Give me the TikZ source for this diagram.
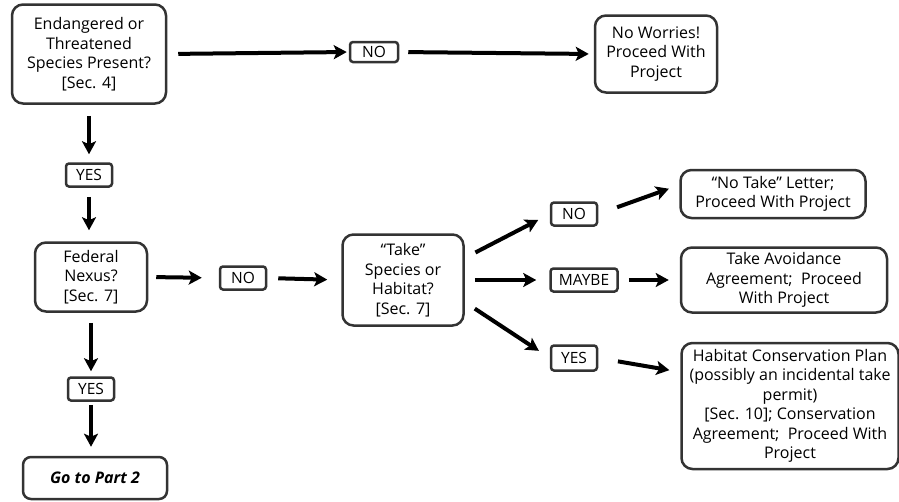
\documentclass[tikz,border=0pt]{standalone}
\usepackage{fontspec}
\setmainfont{Open Sans}
\usetikzlibrary{arrows.meta}
\definecolor{edge}{HTML}{333333}
\begin{document}
\begin{tikzpicture}[x=1pt,y=-1pt,
        box/.style={draw=edge, line width=2.5pt, rounded corners=11pt, align=center,
            inner sep=1pt, font=\fontsize{16}{19.5}\selectfont},
        tag/.style={draw=edge, line width=2.5pt, rounded corners=3pt, inner sep=0pt,
            font=\fontsize{15.5}{16}\selectfont},
        arr/.style={line width=4pt, -{Stealth[length=13pt,width=14pt,inset=3pt]}}]
    \useasboundingbox (0,0) rectangle (899,501);
    % boxes
    \node[box, minimum width=154pt, minimum height=99pt] (present) at (89,54) {Endangered or\\Threatened\\Species Present?\\{[}Sec. 4{]}};
    \node[box, minimum width=122pt, minimum height=77pt] (noworry) at (656,54) {No Worries!\\Proceed With\\Project};
    \node[box, minimum width=112pt, minimum height=69pt] (nexus) at (91,277) {Federal\\Nexus?\\{[}Sec. 7{]}};
    \node[box, minimum width=121pt, minimum height=91pt] (take) at (403,280) {``Take''\\Species or\\Habitat?\\{[}Sec. 7{]}};
    \node[box, minimum width=185pt, minimum height=48pt] (letter) at (773,194) {``No Take'' Letter;\\Proceed With Project};
    \node[box, minimum width=206pt, minimum height=65pt] (avoid) at (784,280) {Take Avoidance\\Agreement;~ Proceed\\With Project};
    \node[box, minimum width=217pt, minimum height=126pt] (hcp) at (790,406) {Habitat Conservation Plan\\(possibly an incidental take\\permit)\\{[}Sec. 10{]}; Conservation\\Agreement;~ Proceed With\\Project};
    \node[box, rounded corners=8pt, minimum width=144pt, minimum height=42pt] (part) at (95,478) {\bfseries\itshape Go to Part 2};
    % answer tags
    \node[tag, minimum width=48pt, minimum height=20pt] (no1) at (374,52) {NO};
    \node[tag, minimum width=46pt, minimum height=23pt] (yes1) at (89,175) {YES};
    \node[tag, minimum width=46pt, minimum height=23pt] (no2) at (243,278) {NO};
    \node[tag, minimum width=46pt, minimum height=23pt] (yes2) at (91,389) {YES};
    \node[tag, minimum width=46pt, minimum height=23pt] (no3) at (574,214) {NO};
    \node[tag, minimum width=67pt, minimum height=23pt] (maybe) at (584,280) {MAYBE};
    \node[tag, minimum width=46pt, minimum height=25pt] (yes3) at (574,358) {YES};
    % arrows
    \draw[arr, shorten <=11pt, shorten >=2pt] (present.east) -- (no1.west);
    \draw[arr, shorten <=9pt, shorten >=5pt] (no1.east) -- (noworry.west);
    \draw[arr, shorten <=11pt, shorten >=8pt] (present.south) -- (yes1.north);
    \draw[arr, shorten <=9pt, shorten >=11pt] (yes1.south) -- (yes1.south |- nexus.north);
    \draw[arr, shorten <=8pt, shorten >=17pt] (nexus.east) -- (no2.west);
    \draw[arr, shorten <=11pt, shorten >=14pt] (no2.east) -- (take.west);
    \draw[arr, shorten <=10pt, shorten >=5pt] (nexus.south) -- (yes2.north);
    \draw[arr, shorten <=3pt, shorten >=9pt] (yes2.south) -- (yes2.south |- part.north);
    \draw[arr, shorten <=12pt, shorten >=13pt] ([yshift=22pt]take.east) -- (no3.west);
    \draw[arr, shorten <=10pt, shorten >=13pt] (take.east) -- (maybe.west);
    \draw[arr, shorten <=12pt, shorten >=13pt] ([yshift=-22pt]take.east) -- (yes3.west);
    \draw[arr, shorten <=20pt, shorten >=11pt] (no3.east) -- ([yshift=9pt]letter.west);
    \draw[arr, shorten <=10pt, shorten >=11pt] (maybe.east) -- (avoid.west);
    \draw[arr, shorten <=20pt, shorten >=11pt] (yes3.east) -- ([yshift=34pt]hcp.west);
\end{tikzpicture}
\end{document}
